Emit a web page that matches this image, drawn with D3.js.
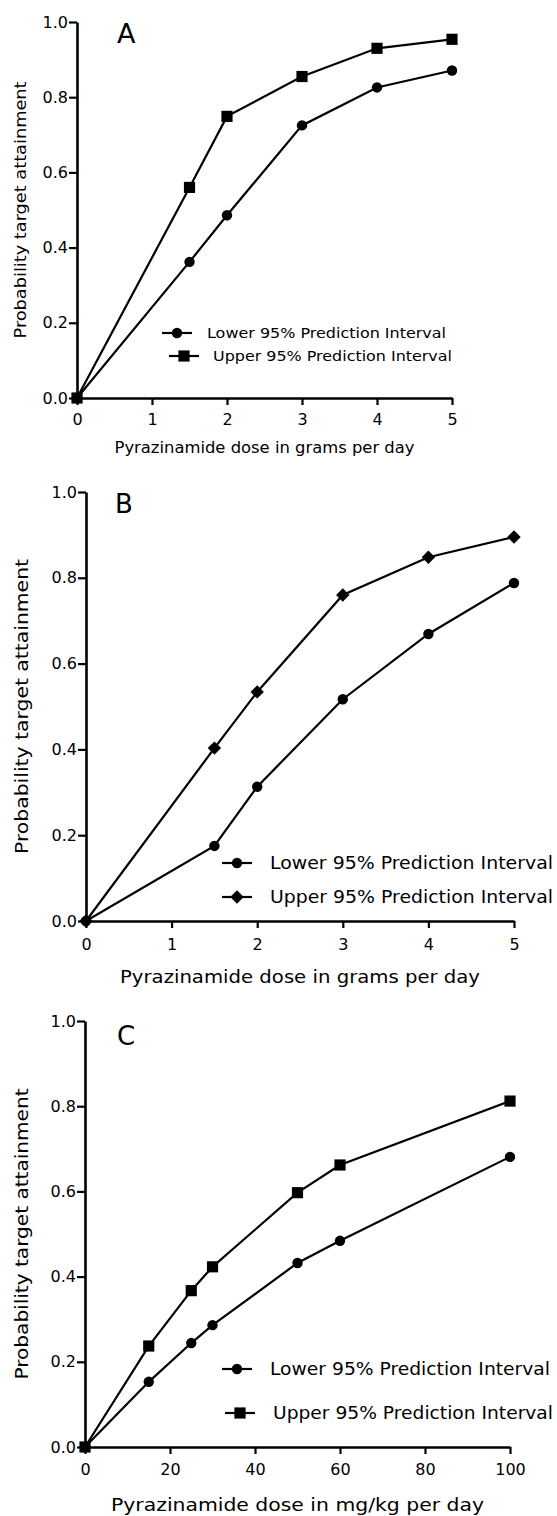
<!DOCTYPE html>
<html><head><meta charset="utf-8">
<script src="https://cdn.jsdelivr.net/npm/d3@7"></script>
<style>body{margin:0;background:#fff}</style>
</head><body>
<svg id="chart" width="557" height="1516"></svg>
<script>
// ---- data ----
const yTicks = [0, 0.2, 0.4, 0.6, 0.8, 1.0];
const xTicksA = [0, 1, 2, 3, 4, 5];
const xTicksB = [0, 1, 2, 3, 4, 5];
const xTicksC = [0, 20, 40, 60, 80, 100];

const dosesA = [0, 1.5, 2, 3, 4, 5];
const lowerA = [0, 0.362, 0.486, 0.725, 0.826, 0.871];
const upperA = [0, 0.560, 0.749, 0.855, 0.930, 0.954];

const dosesB = [0, 1.5, 2, 3, 4, 5];
const lowerB = [0, 0.175, 0.313, 0.517, 0.669, 0.788];
const upperB = [0, 0.403, 0.534, 0.760, 0.848, 0.895];

const dosesC = [0, 15, 25, 30, 50, 60, 100];
const lowerC = [0, 0.153, 0.244, 0.286, 0.432, 0.484, 0.681];
const upperC = [0, 0.237, 0.367, 0.423, 0.597, 0.662, 0.812];

const legendLabels = ["Lower 95% Prediction Interval", "Upper 95% Prediction Interval"];
const yTitle = "Probability target attainment";
const xTitleGrams = "Pyrazinamide dose in grams per day";
const xTitleMgkg = "Pyrazinamide dose in mg/kg per day";

// ---- layout ----
const FONT = "'DejaVu Sans', sans-serif";
const svg = d3.select("#chart");

const panels = [
  { letter: "A", doses: dosesA, lower: lowerA, upper: upperA, xTicks: xTicksA, xMax: 5,
    xTitle: xTitleGrams, upperShape: "square",
    x0: 77, x1: 452, yTop: 22, yBot: 398,
    tickFont: 16, xLabGap: 24, xTitleY: 453, xTitleW: 300, xTitleFont: 15,
    yTitleX: 26, yTitleW: 257, yTitleFont: 15,
    letterX: 117, letterY: 43, letterFont: 27,
    leg: [{y: 333, sx: 177, tx: 207, tw: 239}, {y: 356, sx: 184, tx: 213, tw: 239}], legFont: 14 },
  { letter: "B", doses: dosesB, lower: lowerB, upper: upperB, xTicks: xTicksB, xMax: 5,
    xTitle: xTitleGrams, upperShape: "diamond",
    x0: 86, x1: 514, yTop: 492, yBot: 921,
    tickFont: 16, xLabGap: 26, xTitleY: 983, xTitleW: 360, xTitleFont: 17,
    yTitleX: 28, yTitleW: 295, yTitleFont: 17,
    letterX: 115, letterY: 513, letterFont: 26,
    leg: [{y: 863, sx: 237, tx: 270, tw: 283}, {y: 897, sx: 237, tx: 270, tw: 283}], legFont: 17 },
  { letter: "C", doses: dosesC, lower: lowerC, upper: upperC, xTicks: xTicksC, xMax: 100,
    xTitle: xTitleMgkg, upperShape: "square",
    x0: 85, x1: 510, yTop: 1021, yBot: 1447,
    tickFont: 16, xLabGap: 25, xTitleY: 1511, xTitleW: 373, xTitleFont: 17,
    yTitleX: 28, yTitleW: 291, yTitleFont: 17,
    letterX: 117, letterY: 1045, letterFont: 26,
    leg: [{y: 1369, sx: 237, tx: 270, tw: 280}, {y: 1413, sx: 240, tx: 273, tw: 280}], legFont: 17 }
];

function marker(g, shape, x, y) {
  if (shape === "circle") {
    g.append("path").attr("d", d3.symbol().type(d3.symbolCircle).size(85)())
      .attr("transform", `translate(${x},${y})`).attr("fill", "#000");
  } else if (shape === "square") {
    g.append("path").attr("d", d3.symbol().type(d3.symbolSquare).size(125)())
      .attr("transform", `translate(${x},${y})`).attr("fill", "#000");
  } else {
    g.append("path").attr("d", d3.symbol().type(d3.symbolSquare).size(90)())
      .attr("transform", `translate(${x},${y}) rotate(45)`).attr("fill", "#000");
  }
}

panels.forEach(p => {
  const g = svg.append("g");
  const x = d3.scaleLinear().domain([0, p.xMax]).range([p.x0, p.x1]);
  const y = d3.scaleLinear().domain([0, 1]).range([p.yBot, p.yTop]);

  // y axis
  const ya = g.append("g").attr("transform", `translate(${p.x0},0)`)
    .call(d3.axisLeft(y).tickValues(yTicks).tickFormat(d3.format(".1f")).tickSize(8).tickSizeOuter(0).tickPadding(1));
  // x axis
  const xa = g.append("g").attr("transform", `translate(0,${p.yBot})`)
    .call(d3.axisBottom(x).tickValues(p.xTicks).tickFormat(d3.format("d")).tickSize(7).tickSizeOuter(0).tickPadding(p.xLabGap - 15));
  [ya, xa].forEach(a => {
    a.selectAll("path.domain").attr("stroke", "#000").attr("stroke-width", 2.6);
    a.selectAll(".tick line").attr("stroke", "#000").attr("stroke-width", 2.2);
    a.selectAll(".tick text").attr("fill", "#000").style("font-family", FONT).style("font-size", p.tickFont + "px");
  });

  // lines
  const line = d3.line().x(d => x(d[0])).y(d => y(d[1]));
  const series = [
    { vals: p.lower, shape: "circle" },
    { vals: p.upper, shape: p.upperShape }
  ];
  series.forEach(s => {
    const pts = p.doses.map((d, i) => [d, s.vals[i]]);
    g.append("path").datum(pts).attr("d", line)
      .attr("fill", "none").attr("stroke", "#000").attr("stroke-width", 2.2);
    pts.forEach(pt => marker(g, s.shape, x(pt[0]), y(pt[1])));
  });

  // legend
  series.forEach((s, i) => {
    const L = p.leg[i];
    g.append("line").attr("x1", L.sx - 15).attr("x2", L.sx + 15).attr("y1", L.y).attr("y2", L.y)
      .attr("stroke", "#000").attr("stroke-width", 2.2);
    marker(g, s.shape, L.sx, L.y);
    g.append("text").attr("x", L.tx).attr("y", L.y).attr("dy", "0.36em")
      .attr("textLength", L.tw).attr("lengthAdjust", "spacingAndGlyphs")
      .style("font-family", FONT).style("font-size", p.legFont + "px").text(legendLabels[i]);
  });

  // titles
  g.append("text").attr("x", (p.x0 + p.x1) / 2).attr("y", p.xTitleY)
    .attr("text-anchor", "middle").attr("textLength", p.xTitleW).attr("lengthAdjust", "spacingAndGlyphs")
    .style("font-family", FONT).style("font-size", p.xTitleFont + "px").text(p.xTitle);
  g.append("text").attr("transform", `translate(${p.yTitleX},${(p.yTop + p.yBot) / 2}) rotate(-90)`)
    .attr("text-anchor", "middle").attr("textLength", p.yTitleW).attr("lengthAdjust", "spacingAndGlyphs")
    .style("font-family", FONT).style("font-size", p.yTitleFont + "px").text(yTitle);
  g.append("text").attr("x", p.letterX).attr("y", p.letterY)
    .style("font-family", FONT).style("font-size", p.letterFont + "px").text(p.letter);
});
</script>
</body></html>
